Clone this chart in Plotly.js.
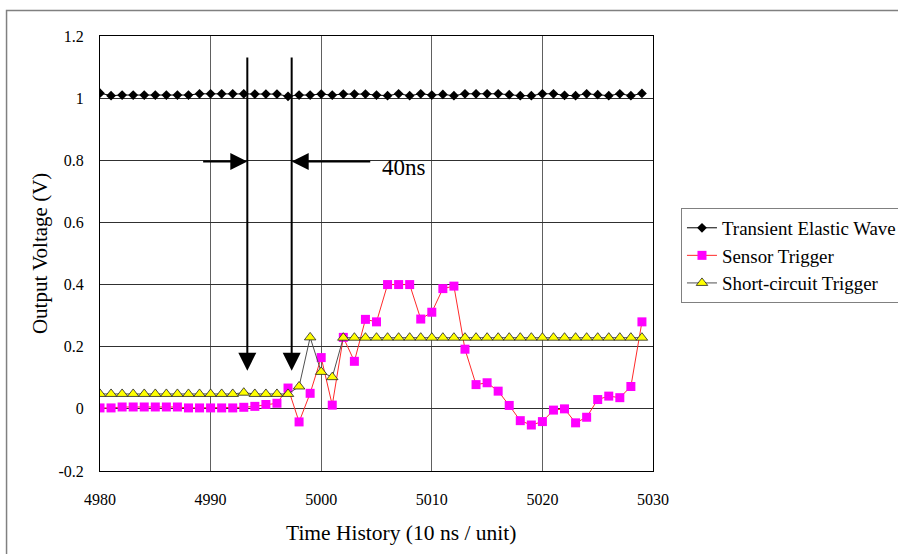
<!DOCTYPE html>
<html>
<head>
<meta charset="utf-8">
<script src="https://cdn.plot.ly/plotly-3.0.1.min.js"></script>
<style>
  html, body { margin: 0; padding: 0; background: #fff; }
  #chart { width: 898px; height: 554px; }
</style>
</head>
<body>
<div id="chart"></div>
<script>
// ---- data ----
var timeUnits = [4980,4981,4982,4983,4984,4985,4986,4987,4988,4989,
                 4990,4991,4992,4993,4994,4995,4996,4997,4998,4999,
                 5000,5001,5002,5003,5004,5005,5006,5007,5008,5009,
                 5010,5011,5012,5013,5014,5015,5016,5017,5018,5019,
                 5020,5021,5022,5023,5024,5025,5026,5027,5028,5029];

var transientElasticWave = [1.016,1.008,1.010,1.010,1.010,1.010,1.010,1.010,1.010,1.014,
                            1.014,1.014,1.014,1.014,1.013,1.013,1.013,1.006,1.010,1.010,
                            1.013,1.010,1.013,1.013,1.013,1.010,1.008,1.014,1.008,1.014,
                            1.010,1.012,1.008,1.014,1.014,1.014,1.014,1.011,1.008,1.008,
                            1.014,1.014,1.009,1.008,1.014,1.011,1.008,1.014,1.008,1.015];

var sensorTrigger = [0.003,0.003,0.006,0.006,0.006,0.006,0.006,0.006,0.003,0.003,
                     0.003,0.003,0.003,0.005,0.008,0.014,0.018,0.067,-0.042,0.050,
                     0.165,0.012,0.230,0.153,0.288,0.280,0.400,0.400,0.400,0.289,
                     0.311,0.387,0.395,0.192,0.078,0.084,0.057,0.011,-0.038,-0.052,
                     -0.041,-0.004,0.000,-0.045,-0.027,0.030,0.041,0.036,0.072,0.280];

var shortCircuitTrigger = [0.048,0.048,0.048,0.048,0.048,0.048,0.048,0.048,0.048,0.048,
                           0.048,0.048,0.048,0.052,0.048,0.048,0.048,0.048,0.072,0.230,
                           0.119,0.102,0.229,0.229,0.229,0.229,0.229,0.229,0.229,0.229,
                           0.229,0.229,0.229,0.229,0.229,0.229,0.229,0.229,0.229,0.229,
                           0.229,0.229,0.229,0.229,0.229,0.229,0.229,0.229,0.229,0.229];

var seriesNames = ["Transient Elastic Wave", "Sensor Trigger", "Short-circuit Trigger"];
var xTickVals = [4980, 4990, 5000, 5010, 5020, 5030];
var xTickText = ["4980", "4990", "5000", "5010", "5020", "5030"];
var yTickVals = [-0.2, 0, 0.2, 0.4, 0.6, 0.8, 1, 1.2];
var yTickText = ["-0.2", "0", "0.2", "0.4", "0.6", "0.8", "1", "1.2"];

// annotation marks (data coordinates)
var markerLineX = [4993.32, 4997.33];
var markerLineTop = 1.136;
var markerLineTip = 0.123;
var spanArrowY = 0.796;
var spanArrowTails = [4989.19, 5004.57];
var spanLabel = "40ns";
var spanLabelPos = [5007.5, 0.778];

var serif = "Liberation Serif";

var traces = [
  {
    x: timeUnits, y: transientElasticWave, name: seriesNames[0],
    type: "scatter", mode: "lines+markers",
    line: {color: "#000000", width: 1},
    marker: {symbol: "diamond", size: 7.5, color: "#000000"}
  },
  {
    x: timeUnits, y: sensorTrigger, name: seriesNames[1],
    type: "scatter", mode: "lines+markers",
    line: {color: "#FF2A2A", width: 1},
    marker: {symbol: "square", size: 9, color: "#FF00FF", line: {width: 0}}
  },
  {
    x: timeUnits, y: shortCircuitTrigger, name: seriesNames[2],
    type: "scatter", mode: "lines+markers",
    line: {color: "#505050", width: 1},
    marker: {symbol: "triangle-up", size: 10, color: "#FFFF00", line: {color: "#222222", width: 0.8}}
  }
];

var annotations = [
  // vertical arrows
  {x: markerLineX[0], y: markerLineTip, ax: markerLineX[0], ay: markerLineTop, xref: "x", yref: "y", axref: "x", ayref: "y",
   text: "", showarrow: true, arrowhead: 2, arrowwidth: 2, arrowsize: 1.8, arrowcolor: "#000"},
  {x: markerLineX[1], y: markerLineTip, ax: markerLineX[1], ay: markerLineTop, xref: "x", yref: "y", axref: "x", ayref: "y",
   text: "", showarrow: true, arrowhead: 2, arrowwidth: 2, arrowsize: 1.8, arrowcolor: "#000"},
  // horizontal arrows
  {x: markerLineX[0], y: spanArrowY, ax: spanArrowTails[0], ay: spanArrowY, xref: "x", yref: "y", axref: "x", ayref: "y",
   text: "", showarrow: true, arrowhead: 2, arrowwidth: 2, arrowsize: 1.7, arrowcolor: "#000"},
  {x: markerLineX[1], y: spanArrowY, ax: spanArrowTails[1], ay: spanArrowY, xref: "x", yref: "y", axref: "x", ayref: "y",
   text: "", showarrow: true, arrowhead: 2, arrowwidth: 2, arrowsize: 1.7, arrowcolor: "#000"},
  // label
  {x: spanLabelPos[0], y: spanLabelPos[1], xref: "x", yref: "y", text: spanLabel, showarrow: false,
   font: {family: serif, size: 23, color: "#000"}},
  // axis titles
  {x: 0.545, y: -0.1425, xref: "paper", yref: "paper", text: "Time History (10 ns / unit)", showarrow: false,
   xanchor: "center", yanchor: "middle", font: {family: serif, size: 21.5, color: "#000"}},
  {x: -0.1085, y: 0.501, xref: "paper", yref: "paper", text: "Output Voltage (V)", showarrow: false, textangle: -90,
   xanchor: "center", yanchor: "middle", font: {family: serif, size: 21, color: "#000"}}
];

var layout = {
  width: 898, height: 554,
  margin: {l: 100, r: 245, t: 36, b: 83, autoexpand: false},
  paper_bgcolor: "#ffffff", plot_bgcolor: "#ffffff",
  font: {family: serif, size: 16, color: "#000"},
  showlegend: true,
  legend: {
    x: 1.0506, y: 0.6046, xanchor: "left", yanchor: "top",
    bordercolor: "#808080", borderwidth: 1, bgcolor: "#ffffff",
    font: {family: serif, size: 18.9, color: "#000"},
    itemwidth: 30
  },
  xaxis: {
    range: [4980, 5030], tickmode: "array", tickvals: xTickVals, ticktext: xTickText,
    showgrid: true, gridcolor: "#606060", gridwidth: 1,
    showline: true, linecolor: "#000", linewidth: 1, mirror: true,
    zeroline: false, ticks: "", ticklabelstandoff: 14,
    tickfont: {family: serif, size: 16, color: "#000"}
  },
  yaxis: {
    range: [-0.2, 1.2], tickmode: "array", tickvals: yTickVals, ticktext: yTickText,
    showgrid: true, gridcolor: "#303030", gridwidth: 1,
    showline: true, linecolor: "#000", linewidth: 1, mirror: true,
    zeroline: false, ticks: "", ticklabelstandoff: 12,
    tickfont: {family: serif, size: 16, color: "#000"}
  },
  annotations: annotations,
  shapes: [
    {type: "rect", xref: "paper", yref: "paper", layer: "below",
     x0: -0.169, x1: 1.6, y0: -0.4, y1: 1.0586,
     line: {color: "#808080", width: 1.5}, fillcolor: "rgba(0,0,0,0)"}
  ]
};

Plotly.newPlot("chart", traces, layout, {staticPlot: true, displayModeBar: false});
</script>
</body>
</html>
